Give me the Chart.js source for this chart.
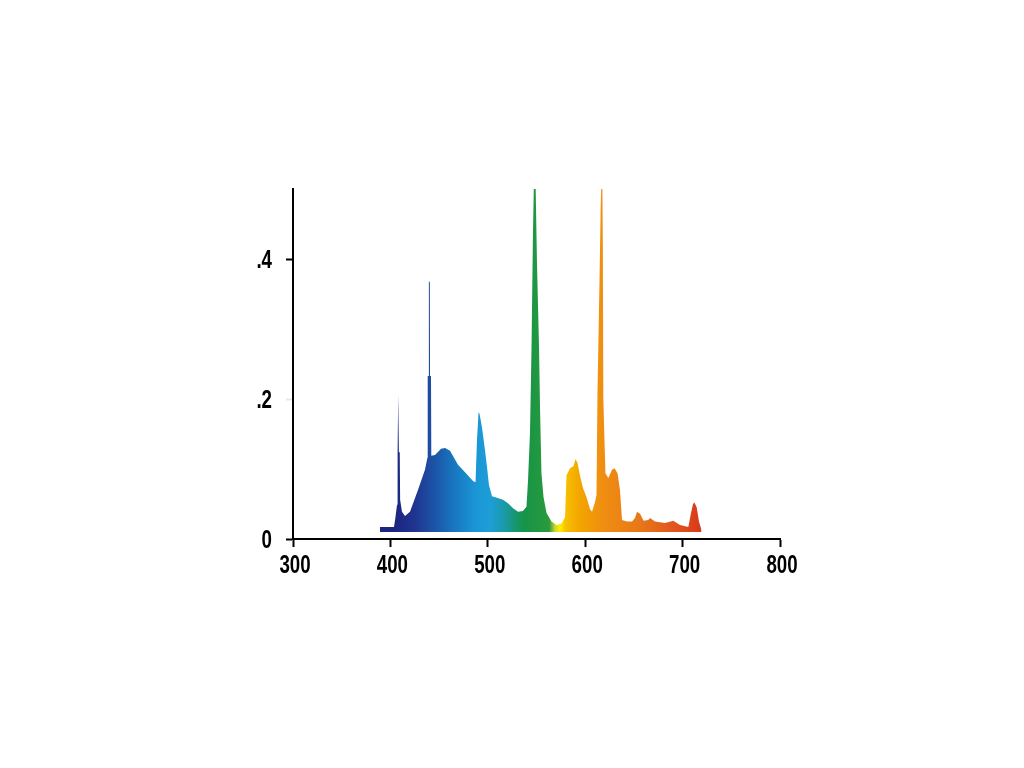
<!DOCTYPE html>
<html>
<head>
<meta charset="utf-8">
<script src="https://cdn.jsdelivr.net/npm/chart.js@4/dist/chart.umd.min.js"></script>
<style>
  html, body { margin: 0; padding: 0; background: #fff; }
  #wrap { width: 1024px; height: 768px; }
</style>
</head>
<body>
<div id="wrap"><canvas id="spectrum"></canvas></div>
<script>
// wavelength (nm) and relative intensity
const wavelengths = [
  389.3, 403.7, 405.2, 406.8, 407.0, 407.8, 408.0, 408.6, 408.8, 409.6,
  410.0, 411.9, 415.0, 420.1, 428.3, 435.5, 438.0, 438.3, 439.3, 439.5,
  440.5, 440.7, 441.7, 442.0, 445.8, 452.0, 456.1, 461.2, 469.4, 477.6,
  484.8, 487.4, 488.9, 490.5, 491.5, 494.1, 497.1, 499.2, 501.2, 504.3,
  509.4, 515.6, 520.7, 525.9, 531.0, 536.1, 539.7, 541.3, 543.3, 544.9,
  546.4, 547.4, 549.0, 550.5, 552.6, 553.6, 555.1, 557.2, 560.3, 565.4,
  570.5, 575.7, 579.3, 580.8, 584.4, 588.0, 590.0, 592.1, 594.7, 597.7,
  601.3, 604.9, 607.0, 610.1, 611.6, 612.6, 614.7, 615.9, 616.7, 617.6,
  618.1, 618.6, 619.8, 620.8, 623.7, 627.5, 630.1, 633.2, 635.7, 637.8,
  642.9, 648.1, 651.1, 653.2, 656.3, 659.9, 664.8, 666.5, 671.7, 681.9,
  690.5, 697.3, 705.9, 708.6, 710.7, 712.2, 714.5, 716.8, 719.4
];
const intensity = [
  0.017, 0.017, 0.031, 0.049, 0.124, 0.124, 0.206, 0.206, 0.124, 0.124,
  0.056, 0.039, 0.033, 0.039, 0.070, 0.099, 0.116, 0.233, 0.233, 0.369,
  0.366, 0.233, 0.233, 0.119, 0.120, 0.129, 0.130, 0.126, 0.106, 0.094,
  0.083, 0.081, 0.141, 0.181, 0.179, 0.159, 0.127, 0.103, 0.077, 0.061,
  0.059, 0.056, 0.051, 0.044, 0.039, 0.040, 0.046, 0.084, 0.151, 0.274,
  0.441, 0.513, 0.513, 0.394, 0.274, 0.189, 0.094, 0.060, 0.037, 0.025,
  0.020, 0.022, 0.031, 0.091, 0.101, 0.104, 0.114, 0.109, 0.090, 0.073,
  0.060, 0.043, 0.039, 0.053, 0.063, 0.209, 0.370, 0.474, 0.513, 0.513,
  0.417, 0.203, 0.141, 0.094, 0.087, 0.099, 0.101, 0.094, 0.070, 0.027,
  0.025, 0.025, 0.030, 0.039, 0.036, 0.026, 0.027, 0.030, 0.025, 0.023,
  0.026, 0.020, 0.017, 0.037, 0.050, 0.052, 0.045, 0.025, 0.013
];

const xTicks = [300, 400, 500, 600, 700, 800];
const xTickLabels = ['300', '400', '500', '600', '700', '800'];
const yTicks = [0, 0.2, 0.4];
const yTickLabels = ['0', '.2', '.4'];

// colour of the fill along the wavelength axis
const spectrumStops = [
  [404, '#1c2580'], [425, '#1f3590'], [446, '#1c55a8'], [466, '#1878c0'],
  [487, '#1a95d5'], [502, '#1d9ed8'], [518, '#1a9aa5'], [528, '#179670'],
  [538, '#169447'], [563, '#2a9a3c'], [569, '#c8d830'], [574, '#fff000'],
  [580, '#f7c000'], [595, '#f3a400'], [615, '#f09010'], [656, '#e87818'],
  [697, '#e05020'], [718, '#d83a1a']
];

function spectrumFill(context) {
  const chart = context.chart;
  if (!chart.chartArea) return null;
  const x = chart.scales.x;
  const g = chart.ctx.createLinearGradient(x.getPixelForValue(300), 0, x.getPixelForValue(800), 0);
  spectrumStops.forEach(s => g.addColorStop((s[0] - 300) / 500, s[1]));
  return g;
}

// narrow bold labels: the original uses a condensed face, so squeeze Liberation Sans Bold
const narrowLabels = {
  id: 'narrowLabels',
  afterDraw(chart) {
    const ctx = chart.ctx;
    const xs = chart.scales.x, ys = chart.scales.y;
    ctx.save();
    ctx.font = 'bold 26px "Liberation Sans", Arial, sans-serif';
    ctx.fillStyle = '#000';
    ctx.textBaseline = 'middle';
    ctx.textAlign = 'center';
    xTicks.forEach((v, i) => {
      ctx.save();
      ctx.translate(xs.getPixelForValue(v) + 2, xs.top + 27);
      ctx.scale(0.72, 1);
      ctx.fillText(xTickLabels[i], 0, 0);
      ctx.restore();
    });
    ctx.textAlign = 'right';
    yTicks.forEach((v, i) => {
      ctx.save();
      ctx.translate(ys.right - 21, ys.getPixelForValue(v) + 2);
      ctx.scale(0.72, 1);
      ctx.fillText(yTickLabels[i], 0, 0);
      ctx.restore();
    });
    ctx.restore();
  }
};

const chart = new Chart(document.getElementById('spectrum'), {
  type: 'line',
  data: {
    datasets: [{
      data: wavelengths.map((w, i) => ({ x: w, y: intensity[i] })),
      borderWidth: 0,
      pointRadius: 0,
      tension: 0,
      fill: { value: 0.01 },
      backgroundColor: spectrumFill
    }]
  },
  plugins: [narrowLabels],
  options: {
    responsive: true,
    maintainAspectRatio: false,
    animation: false,
    layout: { padding: { left: 0, right: 244, top: 189, bottom: 179 } },
    plugins: { legend: { display: false }, tooltip: { enabled: false } },
    scales: {
      x: {
        type: 'linear',
        min: 300,
        max: 800,
        afterBuildTicks: s => { s.ticks = xTicks.map(v => ({ value: v })); },
        afterFit: s => { s.height = 50; },
        border: { display: true, color: '#000', width: 2 },
        grid: { drawOnChartArea: false, drawTicks: true, tickLength: 8, tickWidth: 2, color: '#000' },
        ticks: { display: false }
      },
      y: {
        min: 0,
        max: 0.5,
        afterBuildTicks: s => { s.ticks = yTicks.map(v => ({ value: v })); },
        afterFit: s => { s.width = 293; },
        border: { display: true, color: '#000', width: 2 },
        grid: {
          drawOnChartArea: false, drawTicks: true, tickLength: 7, tickWidth: 2,
          color: c => (c.tick && c.tick.value === 0.2) ? '#e8e8e8' : '#000'
        },
        ticks: { display: false }
      }
    }
  }
});
</script>
</body>
</html>
